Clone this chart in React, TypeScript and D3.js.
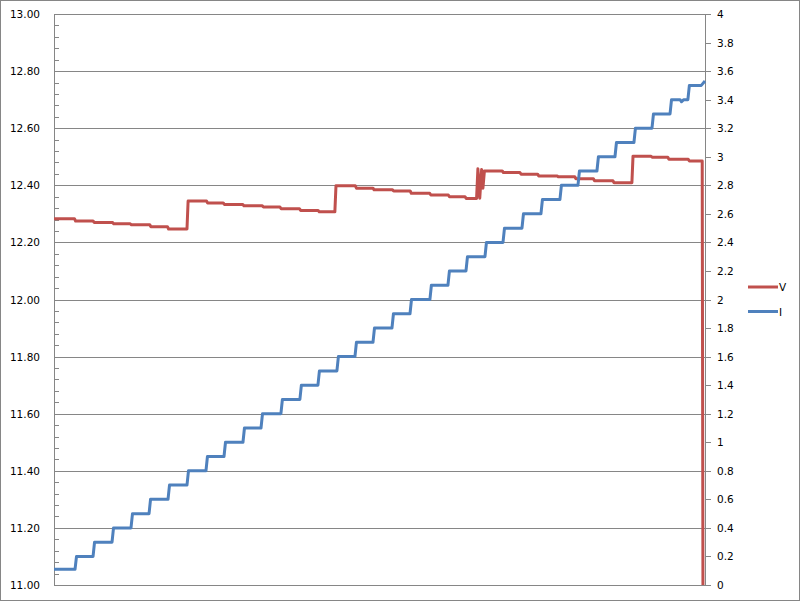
import * as d3 from "d3";

// time axis (s), one current step roughly every 10 s
const currentStepTimes = [
  0, 11.3, 21, 31.2, 41.4, 51.1, 61.3, 71.5, 81.7, 91.4, 101.6, 111.3, 122, 132.2,
  141.9, 152.1, 161.8, 171.5, 181.7, 191.4, 202.1, 211.8, 221.5, 231.7, 241.4,
  251.6, 261.8, 272, 281.7, 291.9, 301.6, 311.8, 321.5, 331.2, 340.8, 348,
];
const currentLevels = [
  0.11, 0.2, 0.3, 0.4, 0.5, 0.6, 0.7, 0.8, 0.9, 1.0, 1.1, 1.2, 1.3, 1.4, 1.5, 1.6,
  1.7, 1.8, 1.9, 2.0, 2.1, 2.2, 2.3, 2.4, 2.5, 2.6, 2.7, 2.8, 2.9, 3.0, 3.1, 3.2,
  3.3, 3.4, 3.5,
];
// small glitches on the I trace
const currentExtra: [number, number][] = [
  [336.6, 3.4],
  [337.4, 3.385],
  [338.6, 3.4],
  [350, 3.53],
];

// V trace, first part (before the contact glitch)
const voltageTimesA = [
  0, 11, 21, 31.5, 41, 51.5, 61, 71.5, 82, 91, 101.5, 112, 121.5, 132, 142, 151,
  162, 171.5, 182, 191.5, 202, 212, 221, 227.2,
];
const voltageLevelsA = [
  12.283, 12.275, 12.27, 12.265, 12.262, 12.255, 12.247, 12.345, 12.338, 12.333,
  12.328, 12.324, 12.318, 12.312, 12.307, 12.398, 12.39, 12.384, 12.38, 12.372,
  12.366, 12.36, 12.354,
];
const voltageSpike: [number, number][] = [
  [227.9, 12.458],
  [228.9, 12.355],
  [229.9, 12.455],
  [230.6, 12.39],
];
const voltageTimesB = [
  231.4, 241, 250.5, 260, 270.5, 280, 290, 300.5, 310.7, 321, 330, 341, 348.5,
];
const voltageLevelsB = [
  12.45, 12.445, 12.439, 12.433, 12.43, 12.423, 12.416, 12.409, 12.502, 12.498,
  12.491, 12.485,
];
const voltageEnd: [number, number][] = [[348.9, 11.0]];

const leftTicks = [11, 11.2, 11.4, 11.6, 11.8, 12, 12.2, 12.4, 12.6, 12.8, 13];
const rightTicks = [
  0, 0.2, 0.4, 0.6, 0.8, 1, 1.2, 1.4, 1.6, 1.8, 2, 2.2, 2.4, 2.6, 2.8, 3, 3.2, 3.4,
  3.6, 3.8, 4,
];
const legendItems = [
  { name: "V", color: "#C0504D" },
  { name: "I", color: "#4F81BD" },
];

const W = 800;
const H = 601;
const plot = { left: 54, right: 705, top: 14, bottom: 585 };
const font = "'DejaVu Sans', Verdana, sans-serif";
const grid = "#868686";

// turn step times + levels into a polyline with short sloped risers
function steps(times: number[], levels: number[], rise: number): [number, number][] {
  const pts: [number, number][] = [];
  levels.forEach((v, i) => {
    pts.push([times[i] + (i > 0 ? rise : 0), v]);
    pts.push([times[i + 1], v]);
  });
  return pts;
}

export default function App() {
  const x = d3.scaleLinear().domain([0, 350]).range([plot.left, plot.right]);
  const yL = d3.scaleLinear().domain([11, 13]).range([plot.bottom, plot.top]);
  const yR = d3.scaleLinear().domain([0, 4]).range([plot.bottom, plot.top]);

  const currentPts = [...steps(currentStepTimes, currentLevels, 0.8), ...currentExtra].sort(
    (a, b) => a[0] - b[0]
  );
  const voltagePts = [
    ...steps(voltageTimesA, voltageLevelsA, 0.6),
    ...voltageSpike,
    ...steps(voltageTimesB, voltageLevelsB, 0.6),
    ...voltageEnd,
  ];

  const lineV = d3
    .line<[number, number]>()
    .x((d) => x(d[0]))
    .y((d) => yL(d[1]));
  const lineI = d3
    .line<[number, number]>()
    .x((d) => x(d[0]))
    .y((d) => yR(d[1]));

  const minorTicks = d3.range(0, 51).map((i) => 11 + i * 0.04);
  const fmtR = d3.format("~g");

  return (
    <svg
      width={W}
      height={H}
      style={{ position: "absolute", left: 0, top: 0, background: "#fff" }}
      fontFamily={font}
    >
      <rect x={0.5} y={0.5} width={W - 1} height={H - 1} fill="#fff" stroke={grid} />

      {/* gridlines */}
      {leftTicks.map((t) => (
        <line
          key={"g" + t}
          x1={plot.left}
          x2={plot.right}
          y1={Math.round(yL(t)) + 0.5}
          y2={Math.round(yL(t)) + 0.5}
          stroke={grid}
        />
      ))}

      {/* left axis */}
      <line x1={plot.left + 0.5} x2={plot.left + 0.5} y1={plot.top} y2={plot.bottom} stroke={grid} />
      {minorTicks.map((t, i) => (
        <line
          key={"m" + i}
          x1={plot.left}
          x2={plot.left + 5}
          y1={Math.round(yL(t)) + 0.5}
          y2={Math.round(yL(t)) + 0.5}
          stroke={grid}
        />
      ))}
      {leftTicks.map((t) => (
        <text
          key={"l" + t}
          x={40}
          y={yL(t)}
          textAnchor="end"
          dominantBaseline="central"
          fontSize={10.5}
          fill="#000"
        >
          {d3.format(".2f")(t)}
        </text>
      ))}

      {/* right axis */}
      <line x1={plot.right + 0.5} x2={plot.right + 0.5} y1={plot.top} y2={plot.bottom} stroke={grid} />
      {rightTicks.map((t) => (
        <g key={"r" + t}>
          <line
            x1={plot.right}
            x2={plot.right + 6}
            y1={Math.round(yR(t)) + 0.5}
            y2={Math.round(yR(t)) + 0.5}
            stroke={grid}
          />
          <text x={717} y={yR(t)} dominantBaseline="central" fontSize={10.5} fill="#000">
            {fmtR(t)}
          </text>
        </g>
      ))}

      {/* series */}
      <path d={lineV(voltagePts) || ""} fill="none" stroke="#C0504D" strokeWidth={3} strokeLinejoin="round" />
      <path d={lineI(currentPts) || ""} fill="none" stroke="#4F81BD" strokeWidth={3} strokeLinejoin="round" />

      {/* legend */}
      {legendItems.map((it, i) => (
        <g key={it.name} transform={`translate(748,${287 + i * 24.5})`}>
          <line x1={0} x2={30} y1={0} y2={0} stroke={it.color} strokeWidth={3} />
          <text x={31} y={0} dominantBaseline="central" fontSize={10.5} fill="#000">
            {it.name}
          </text>
        </g>
      ))}
    </svg>
  );
}
